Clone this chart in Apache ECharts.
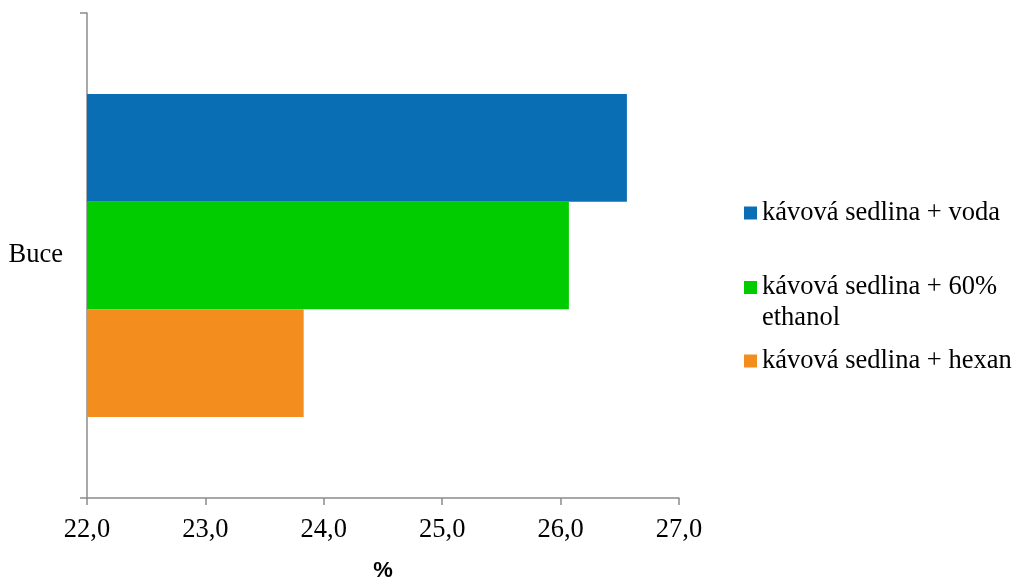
<!DOCTYPE html>
<html>
<head>
<meta charset="utf-8">
<script src="https://cdn.jsdelivr.net/npm/echarts@6/dist/echarts.min.js"></script>
<style>html,body{margin:0;padding:0;background:#fff;overflow:hidden;}#c{width:1016px;height:578px;}</style>
</head>
<body>
<div id="c"></div>
<script>
const categories = ['Buce'];
const seriesNames = ['kávová sedlina + voda', 'kávová sedlina + 60% ethanol', 'kávová sedlina + hexan'];
const vodaValues = [26.56];
const ethanolValues = [26.07];
const hexanValues = [23.83];
const xTicks = { min: 22, max: 27, interval: 1 };
const colors = ['#0A6EB4', '#00CC00', '#F28D1E'];

const serif = '"Liberation Serif", "Times New Roman", serif';
const axisGray = '#8c8c8c';

const chart = echarts.init(document.getElementById('c'), null, { renderer: 'canvas', width: 1016, height: 578 });

function legendFor(name, top, extra) {
  return Object.assign({
    show: true,
    orient: 'vertical',
    left: 744,
    top: top,
    padding: 0,
    itemWidth: 13,
    itemHeight: 13,
    itemGap: 0,
    icon: 'rect',
    data: [name],
    selectedMode: false,
    textStyle: { fontFamily: serif, fontSize: 26.5, color: '#000', lineHeight: 31 }
  }, extra || {});
}

chart.setOption({
  animation: false,
  color: colors,
  grid: { left: 87, right: 337, top: 13, bottom: 80, containLabel: false, outerBoundsMode: 'none' },
  legend: [
    legendFor(seriesNames[0], 197.5),
    legendFor(seriesNames[1], 241, {
      formatter: function () { return '\nkávová sedlina + 60%\nethanol'; }
    }),
    legendFor(seriesNames[2], 345.5)
  ],
  xAxis: {
    type: 'value',
    min: xTicks.min,
    max: xTicks.max,
    interval: xTicks.interval,
    name: '%',
    nameLocation: 'middle',
    nameGap: 62,
    nameTextStyle: { fontFamily: '"Liberation Sans", Arial, sans-serif', fontWeight: 'bold', fontSize: 22, color: '#000' },
    axisLine: { show: true, lineStyle: { color: axisGray, width: 1.5 } },
    axisTick: { show: true, length: 7, lineStyle: { color: axisGray, width: 1.5 } },
    splitLine: { show: false },
    axisLabel: {
      margin: 19,
      fontFamily: serif, fontSize: 26.5, color: '#000',
      formatter: function (v) { return v.toFixed(1).replace('.', ','); }
    }
  },
  yAxis: {
    type: 'category',
    data: categories,
    axisLine: { show: true, lineStyle: { color: axisGray, width: 1.5 } },
    axisTick: { show: true, length: 7, lineStyle: { color: axisGray, width: 1.5 } },
    axisLabel: { margin: 24, fontFamily: serif, fontSize: 26.5, color: '#000' }
  },
  series: [
    { name: seriesNames[0], type: 'bar', data: vodaValues, barGap: '0%', barCategoryGap: '33.4%' },
    { name: seriesNames[1], type: 'bar', data: ethanolValues, barGap: '0%', barCategoryGap: '33.4%' },
    { name: seriesNames[2], type: 'bar', data: hexanValues, barGap: '0%', barCategoryGap: '33.4%' }
  ]
});
</script>
</body>
</html>
